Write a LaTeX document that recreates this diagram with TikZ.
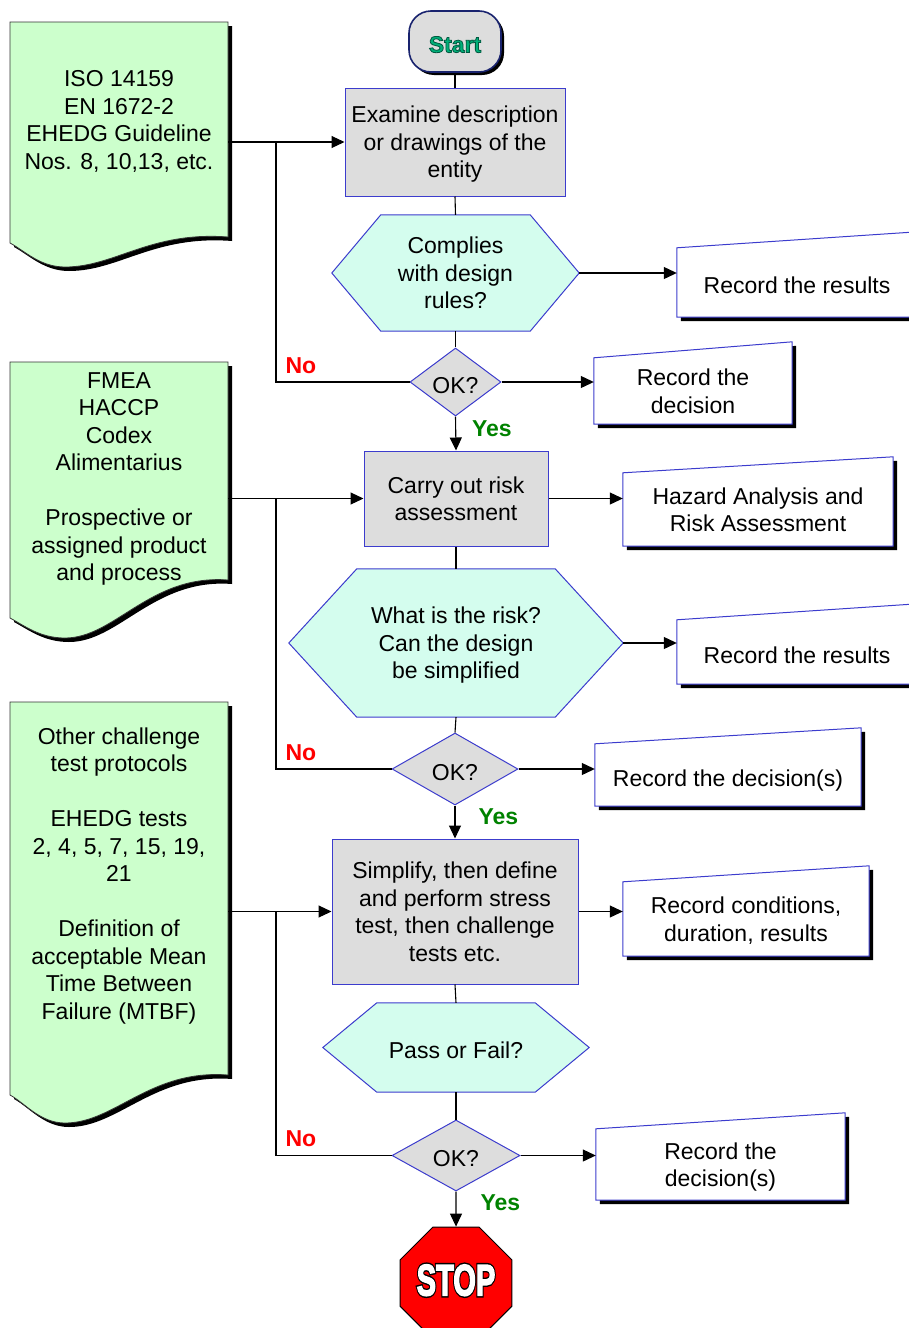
\documentclass[tikz,border=0pt]{standalone}
\usepackage{fontspec}
\setmainfont{Liberation Sans}
\usetikzlibrary{arrows.meta, shapes.geometric, positioning, backgrounds, shadows}

\definecolor{boxgray}{RGB}{221,221,221}
\definecolor{edgeblue}{RGB}{60,60,205}
\definecolor{hexmint}{RGB}{212,253,238}
\definecolor{docgreen}{RGB}{204,255,204}
\definecolor{startnavy}{RGB}{25,35,110}
\definecolor{startgreen}{RGB}{0,175,120}
\definecolor{yesgreen}{RGB}{0,130,0}

% outlined letters (fill + stroke)
\newcommand{\outlinetext}[2]{\special{pdf:literal direct 2 Tr #1}#2\special{pdf:literal direct 0 Tr}}
\newcommand{\lowstrut}{\rule{0pt}{22pt}}

\tikzset{
  every node/.style={font=\fontsize{23}{27.5}\selectfont, align=center},
  txt/.style={text depth=0pt, execute at begin node=\lowstrut},
  startbox/.style={txt, rectangle, rounded corners=22pt, draw=startnavy, line width=1.6pt, fill=boxgray,
    minimum width=92pt, minimum height=61pt, text=startgreen,
    drop shadow={shadow xshift=3pt, shadow yshift=-3pt, fill=black, opacity=1},
    font=\fontsize{23}{27.5}\selectfont\bfseries},
  procbox/.style={txt, rectangle, draw=edgeblue, fill=boxgray, line width=1pt, inner sep=0pt},
  decision/.style={txt, rectangle, inner sep=0pt},
  okdiamond/.style={txt, diamond, draw=edgeblue, fill=boxgray, line width=1pt, inner sep=0pt},
  record/.style={txt, rectangle, inner sep=0pt},
  doctext/.style={txt, rectangle, minimum width=218pt, inner sep=0pt},
  hexshape/.style={draw=edgeblue, fill=hexmint, line width=1pt},
  recshape/.style={draw=edgeblue, fill=white, line width=1pt},
  docshape/.style={draw=black!80, fill=docgreen, line width=0.8pt},
  link/.style={line width=1.1pt},
  arr/.style={line width=1.1pt, -{Triangle[length=13pt,width=12pt]}},
  nolbl/.style={text=red, inner sep=0pt, font=\fontsize{23}{27.5}\selectfont\bfseries},
  yeslbl/.style={text=yesgreen, inner sep=0pt, font=\fontsize{23}{27.5}\selectfont\bfseries}
}

\begin{document}
\begin{tikzpicture}[x=1pt, y=-1pt]
  \useasboundingbox (0,0) rectangle (909,1328);

  % main column
  \node[startbox] (start) at (455,41.5) {\outlinetext{0.8 w 0 0.35 0.25 RG}{Start}};
  \node[procbox, minimum width=220pt, minimum height=108pt] (exam) at (455,142) {Examine description\\or drawings of the\\entity};
  \node[decision, minimum width=247pt, minimum height=116pt] (comply) at (455.5,273) {Complies\\with design\\rules?};
  \node[okdiamond, minimum width=91pt, minimum height=64pt] (ok1) at (455.5,382) {OK?};
  \node[procbox, minimum width=184pt, minimum height=95pt] (risk) at (456,498.5) {Carry out risk\\assessment};
  \node[decision, minimum width=334pt, minimum height=148pt] (simpl) at (456,643) {What is the risk?\\Can the design\\be simplified};
  \node[okdiamond, minimum width=126pt, minimum height=72pt] (ok2) at (455,769) {OK?};
  \node[procbox, minimum width=246pt, minimum height=145pt] (stress) at (455,911.5) {Simplify, then define\\and perform stress\\test, then challenge\\tests etc.};
  \node[decision, minimum width=266pt, minimum height=89pt] (pass) at (456,1047.5) {Pass or Fail?};
  \node[okdiamond, minimum width=128pt, minimum height=71pt] (ok3) at (456,1155.5) {OK?};
  \node[regular polygon, regular polygon sides=8, minimum size=121pt, fill=red, draw=black, line width=1pt,
    inner sep=0pt, text=white] (stop) at (456,1283)
    {\raisebox{6pt}{\scalebox{0.66}[1]{\fontsize{44}{44}\selectfont\bfseries
      \rlap{\outlinetext{4.5 w 0 G 0 g}{STOP}}\outlinetext{1.6 w 1 G 1 g}{STOP}}}};

  % records
  \node[record, minimum width=240pt, minimum height=69pt] (rec1) at (797,282.5) {Record the results};
  \node[record, minimum width=198pt, minimum height=66pt] (rec2) at (693,391) {Record the\\decision};
  \node[record, minimum width=270pt, minimum height=73pt] (rec3) at (758,509.5) {Hazard Analysis and\\Risk Assessment};
  \node[record, minimum width=240pt, minimum height=64pt] (rec4) at (797,652) {Record the results};
  \node[record, minimum width=266pt, minimum height=62pt] (rec5) at (728,775) {Record the decision(s)};
  \node[record, minimum width=246pt, minimum height=74pt] (rec6) at (746,919) {Record conditions,\\duration, results};
  \node[record, minimum width=249pt, minimum height=71pt] (rec7) at (720.5,1164.5) {Record the\\decision(s)};

  % references
  \node[doctext] (iso) at (119,120) {ISO 14159\\EN 1672-2\\EHEDG Guideline\\Nos. 8, 10,13, etc.};
  \node[doctext] (fmea) at (119,476.5) {FMEA\\HACCP\\Codex\\Alimentarius\\[27.5pt]Prospective or\\assigned product\\and process};
  \node[doctext] (tests) at (119,873.5) {Other challenge\\test protocols\\[27.5pt]EHEDG tests\\2, 4, 5, 7, 15, 19,\\21\\[27.5pt]Definition of\\acceptable Mean\\Time Between\\Failure (MTBF)};

  \coordinate (j1) at (276,142);
  \coordinate (j2) at (276,498.5);
  \coordinate (j3) at (276,911.5);

  % connectors
  \draw[link] (start.south) -- (exam.north);
  \draw[arr] (iso.east |- exam.west) -- (exam.west);
  \draw[link] (exam.south) -- (comply.north);
  \draw[arr] (comply.east) -- (comply.east -| rec1.west);
  \draw[link] (comply.south) -- (ok1.north);
  \draw[link] (ok1.west) -| (j1) node[nolbl, pos=0.5, above right=8pt and 9pt] {No};
  \draw[arr] (ok1.east) -- (ok1.east -| rec2.west);
  \draw[arr] (ok1.south) -- (risk.north) node[yeslbl, pos=0, anchor=north west, xshift=16pt, yshift=-4pt] {Yes};

  \draw[arr] (fmea.east |- risk.west) -- (risk.west);
  \draw[arr] (risk.east) -- (risk.east -| rec3.west);
  \draw[link] (risk.south) -- (simpl.north);
  \draw[arr] (simpl.east) -- (simpl.east -| rec4.west);
  \draw[link] (simpl.south) -- (ok2.north);
  \draw[link] (ok2.west) -| (j2) node[nolbl, pos=0.5, above right=8pt and 9pt] {No};
  \draw[arr] (ok2.east) -- (ok2.east -| rec5.west);
  \draw[arr] (ok2.south) -- (stress.north) node[yeslbl, pos=0, anchor=north west, xshift=23pt, yshift=-3pt] {Yes};

  \draw[arr] (tests.east |- stress.west) -- (stress.west);
  \draw[arr] (stress.east) -- (stress.east -| rec6.west);
  \draw[link] (stress.south) -- (pass.north);
  \draw[link] (pass.south) -- (ok3.north);
  \draw[link] (ok3.west) -| (j3) node[nolbl, pos=0.5, above right=8pt and 9pt] {No};
  \draw[arr] (ok3.east) -- (ok3.east -| rec7.west);
  \draw[arr] (ok3.south) -- (stop.north) node[yeslbl, pos=0, anchor=north west, xshift=24pt, yshift=-3pt] {Yes};

  % shapes behind the texts
  \begin{scope}[on background layer]
    \foreach \ytop/\yr/\yl/\yd in {22/237/243/267, 362/580/618/638, 702/1075/1095/1123} {
      \fill[black, shift={(4,4)}] (10,\ytop) -- (228,\ytop) -- (228,\yr)
        .. controls (150,\yr-6) and (115,\yd) .. (65,\yd) .. controls (40,\yd) and (25,\yl+8) .. (10,\yl) -- cycle;
      \filldraw[docshape] (10,\ytop) -- (228,\ytop) -- (228,\yr)
        .. controls (150,\yr-6) and (115,\yd) .. (65,\yd) .. controls (40,\yd) and (25,\yl+8) .. (10,\yl) -- cycle;
    }
    \foreach \h/\dx in {comply/49, simpl/68, pass/54}
      \filldraw[hexshape] (\h.west) -- ([xshift=\dx pt]\h.north west) -- ([xshift=-\dx pt]\h.north east)
        -- (\h.east) -- ([xshift=-\dx pt]\h.south east) -- ([xshift=\dx pt]\h.south west) -- cycle;
    \foreach \i in {1,...,7} {
      \fill[black] ([shift={(4pt,-4pt)}]rec\i.south west) -- ([shift={(4pt,-4pt)}]rec\i.north west)
        -- ([shift={(4pt,12pt)}]rec\i.north east) -- ([shift={(4pt,-4pt)}]rec\i.south east) -- cycle;
      \filldraw[recshape] (rec\i.south west) -- (rec\i.north west) -- ([yshift=16pt]rec\i.north east)
        -- (rec\i.south east) -- cycle;
    }
  \end{scope}
\end{tikzpicture}
\end{document}
